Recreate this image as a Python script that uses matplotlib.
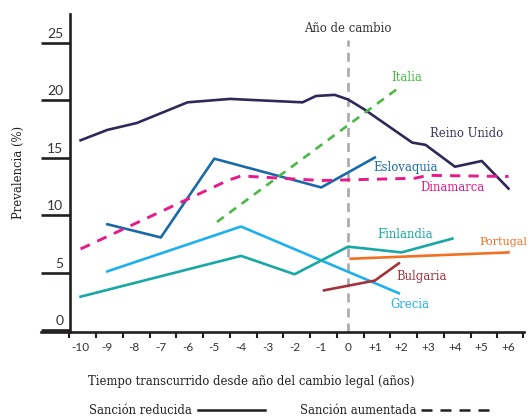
import matplotlib
matplotlib.use('Agg')
import matplotlib.pyplot as plt
from matplotlib.lines import Line2D

# years relative to the legal change, and prevalence (%)
years = list(range(-10, 7))
year_labels = ['-10', '-9', '-8', '-7', '-6', '-5', '-4', '-3', '-2', '-1',
               '0', '+1', '+2', '+3', '+4', '+5', '+6']
prev_ticks = [0, 5, 10, 15, 20, 25]

uk_x = [-10, -9, -7.9, -6, -4.4, -4, -1.7, -1.2, -0.5, 0, 0.6, 2.4, 2.9, 4, 5, 6]
uk_y = [16.5, 17.4, 18.0, 19.8, 20.1, 20.05, 19.8, 20.35, 20.45, 20.05, 19.2, 16.3, 16.1, 14.2, 14.7, 12.3]

slovakia_x = [-9, -7, -5, -1, 1]
slovakia_y = [9.2, 8.05, 14.9, 12.4, 15.0]

denmark_x = [-10, -4.5, -4, -1, 2.5, 3, 6]
denmark_y = [7.05, 13.0, 13.4, 13.0, 13.2, 13.45, 13.35]

italy_x = [-4.9, 1.8]
italy_y = [9.4, 20.9]

greece_x = [-9, -4, 1.9]
greece_y = [5.1, 9.0, 3.2]

finland_x = [-10, -4, -2, 0, 2, 3.9]
finland_y = [2.9, 6.45, 4.85, 7.25, 6.75, 7.95]

portugal_x = [0.1, 6]
portugal_y = [6.2, 6.75]

bulgaria_x = [-0.9, 1.0, 1.9]
bulgaria_y = [3.45, 4.3, 5.8]

W, H = 528, 417
fig = plt.figure(figsize=(W / 100, H / 100), dpi=100)

# axes box in pixels: x 41..524, y 14..332
ax = fig.add_axes([41 / W, 1 - 332 / H, (524 - 41) / W, (332 - 14) / H])
ax.set_xlim(-11.48, 6.58)
ax.set_ylim(-0.17, 27.48)

axis_col = '#231f20'
serif = 'DejaVu Serif'
fs = 8.4
spine_x = -10.39
for s in ['top', 'right']:
    ax.spines[s].set_visible(False)
ax.spines['left'].set_position(('data', spine_x))
ax.spines['left'].set_linewidth(1.9)
ax.spines['left'].set_color(axis_col)
ax.spines['bottom'].set_linewidth(1.9)
ax.spines['bottom'].set_color(axis_col)

# x ticks: labels on the years, tick marks slightly to the left
ax.set_xticks(years)
ax.set_xticklabels(year_labels, fontsize=8.5, family='Lato', color='#333333')
ax.tick_params(axis='x', which='major', length=0, pad=7)
ax.set_xticks([y - 0.42 for y in years] + [6.55], minor=True)
ax.tick_params(axis='x', which='minor', length=4.5, width=1.5, color=axis_col, direction='out')

# y ticks: long marks, labels sitting above them
ax.set_yticks(prev_ticks)
ax.set_yticklabels([])
ax.tick_params(axis='y', length=21, width=1.9, color=axis_col)
for v in prev_ticks:
    ax.annotate(str(v), xy=(spine_x, v), xytext=(-7, 3), textcoords='offset pixels',
                ha='right', va='bottom', fontsize=10, family='Lato', color='#333333')

# year of change marker
ax.plot([0, 0], [-0.17, 25.2], color='#a7a9ac', lw=1.9, dashes=(3.4, 2.3), zorder=1)
ax.text(0, 26.2, 'Año de cambio', ha='center', va='center', fontsize=fs,
        family=serif, color='#333333')

lw = 1.9
ax.plot(uk_x, uk_y, color='#2e2958', lw=lw, solid_joinstyle='round')
ax.plot(slovakia_x, slovakia_y, color='#1b6aa8', lw=lw)
ax.plot(denmark_x, denmark_y, color='#e8198b', lw=2.1, dashes=(3.5, 2.8))
ax.plot(italy_x, italy_y, color='#4bb749', lw=lw, dashes=(3.2, 2.6))
ax.plot(greece_x, greece_y, color='#1db1ed', lw=lw)
ax.plot(finland_x, finland_y, color='#17a8a4', lw=lw)
ax.plot(portugal_x, portugal_y, color='#f37021', lw=lw)
ax.plot(bulgaria_x, bulgaria_y, color='#a2323c', lw=lw)

lab = dict(fontsize=fs, family=serif, va='center', ha='center')
ax.text(4.45, 17.1, 'Reino Unido', color='#3a355f', **lab)
ax.text(2.2, 21.98, 'Italia', color='#4bb749', **lab)
ax.text(2.15, 14.11, 'Eslovaquia', color='#1b6aa8', **lab)
ax.text(3.9, 12.41, 'Dinamarca', color='#e8198b', **lab)
ax.text(2.15, 8.35, 'Finlandia', color='#17a8a4', **lab)
ax.text(4.9, 7.65, 'Portugal', color='#f37021', ha='left', va='center',
        fontsize=fs - 0.4, family=serif, clip_on=False)
ax.text(2.76, 4.64, 'Bulgaria', color='#a2323c', **lab)
ax.text(2.32, 2.23, 'Grecia', color='#1db1ed', **lab)

# axis titles
fig.text(251.5 / W, 1 - 382 / H, 'Tiempo transcurrido desde año del cambio legal (años)',
         ha='center', va='center', fontsize=fs, family=serif, color='#231f20')
fig.text(18 / W, 1 - 172 / H, 'Prevalencia (%)', rotation=90, ha='center', va='center',
         fontsize=fs, family=serif, color='#231f20')

# legend for line styles
fig.text(192 / W, 1 - 410 / H, 'Sanción reducida', ha='right', va='center',
         fontsize=fs, family=serif, color='#231f20')
fig.add_artist(Line2D([198 / W, 265 / W], [1 - 410 / H, 1 - 410 / H], color='#231f20', lw=1.8))
fig.text(417 / W, 1 - 410 / H, 'Sanción aumentada', ha='right', va='center',
         fontsize=fs, family=serif, color='#231f20')
fig.add_artist(Line2D([421 / W, 491 / W], [1 - 410 / H, 1 - 410 / H], color='#231f20', lw=1.8,
                      dashes=(4.4, 3.2)))

fig.savefig('out.png', dpi=100)
